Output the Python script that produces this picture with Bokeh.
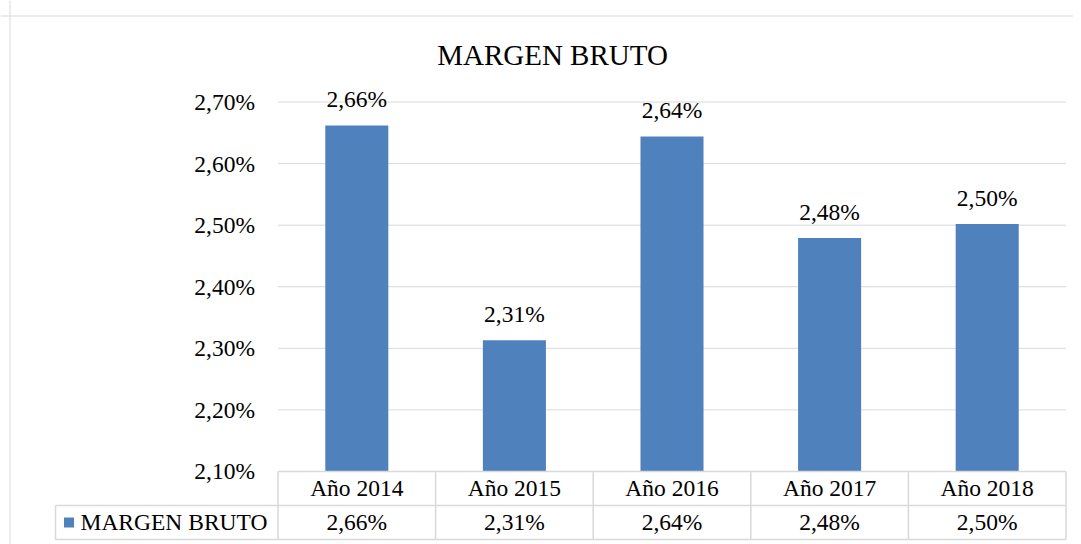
from bokeh.plotting import figure
from bokeh.models import Range1d, Span, Label, ColumnDataSource
from bokeh.core.properties import value
from bokeh.embed import file_html
from bokeh.resources import INLINE

# ---- data ----
CATEGORIES = ["Año 2014", "Año 2015", "Año 2016", "Año 2017", "Año 2018"]
MARGEN_BRUTO = [2.662, 2.313, 2.644, 2.479, 2.502]
SERIES_NAME = "MARGEN BRUTO"
TITLE = "MARGEN BRUTO"
Y_TICKS = [2.10, 2.20, 2.30, 2.40, 2.50, 2.60, 2.70]

def pct(v):
    return f"{v:.2f}".replace(".", ",") + "%"

# ---- layout constants ----
W, H = 1073, 544
PX_X = 157.6          # pixels per category
PX_Y = 615.8          # pixels per 1 percentage point
Y_MIN = Y_TICKS[0]
N = len(CATEGORIES)
X_START = (0 - 277.5) / PX_X
X_END = X_START + W / PX_X
Y_END = Y_TICKS[-1] + (101.5 - 0) / PX_Y
Y_START = Y_END - H / PX_Y
ROW_H = 34 / PX_Y
TABLE_LEFT = -222.5 / PX_X
ROW1_BOT = Y_MIN - ROW_H
ROW2_BOT = Y_MIN - 2 * ROW_H
FONT_NAME = "'Liberation Serif', 'Times New Roman', serif"
FONT = value(FONT_NAME)
FS = "23.5px"
LINE = "#d9d9d9"
BAR = "#4f81bd"

p = figure(width=W, height=H, output_backend="svg", toolbar_location=None,
           x_range=Range1d(X_START, X_END), y_range=Range1d(Y_START, Y_END),
           x_axis_location=None, y_axis_location=None,
           min_border_left=0, min_border_right=0, min_border_top=0, min_border_bottom=0)
p.outline_line_color = None
p.xgrid.visible = False
p.ygrid.visible = False
p.background_fill_color = "white"
p.border_fill_color = "white"

# outer chart border (left and top)
p.add_layout(Span(location=9.5, location_units="screen", dimension="height",
                  line_color=LINE, line_width=1))
p.add_layout(Span(location=H - 15.5, location_units="screen", dimension="width",
                  line_color=LINE, line_width=1))

# gridlines
p.segment(x0=[0] * len(Y_TICKS), x1=[N] * len(Y_TICKS), y0=Y_TICKS, y1=Y_TICKS,
          line_color=LINE, line_width=1)

# y tick labels
p.text(x=[0] * len(Y_TICKS), y=Y_TICKS, text=[pct(t) for t in Y_TICKS],
       x_offset=-23, text_align="right", text_baseline="middle",
       text_font=FONT, text_font_size=FS, text_color="#000000")

# bars
xs = [i + 0.5 for i in range(N)]
src = ColumnDataSource(dict(x=xs, top=MARGEN_BRUTO, cat=CATEGORIES,
                            lab=[pct(v) for v in MARGEN_BRUTO]))
p.vbar(x="x", top="top", bottom=Y_MIN, width=0.40, source=src,
       fill_color=BAR, line_color=None)

# bar labels
p.text(x="x", y="top", text="lab", source=src, y_offset=-26,
       text_align="center", text_baseline="alphabetic",
       text_font=FONT, text_font_size=FS, text_color="#000000")

# data table lines
h_y = [Y_MIN, ROW1_BOT, ROW2_BOT]
h_x0 = [0, TABLE_LEFT, TABLE_LEFT]
p.segment(x0=h_x0, x1=[N] * 3, y0=h_y, y1=h_y, line_color=LINE, line_width=1.5)
v_x = list(range(N + 1))
p.segment(x0=v_x, x1=v_x, y0=[ROW2_BOT] * len(v_x), y1=[Y_MIN] * len(v_x),
          line_color=LINE, line_width=1.5)
p.segment(x0=[TABLE_LEFT], x1=[TABLE_LEFT], y0=[ROW2_BOT], y1=[ROW1_BOT],
          line_color=LINE, line_width=1.5)

# table texts
p.text(x="x", y=Y_MIN - ROW_H / 2, text="cat", source=src,
       text_align="center", text_baseline="middle",
       text_font=FONT, text_font_size=FS, text_color="#000000")
p.text(x="x", y=Y_MIN - 1.5 * ROW_H, text="lab", source=src,
       text_align="center", text_baseline="middle",
       text_font=FONT, text_font_size=FS, text_color="#000000")

# legend key in table
p.scatter(x=[TABLE_LEFT + 13.5 / PX_X], y=[Y_MIN - 1.5 * ROW_H], marker="square",
          size=10, fill_color=BAR, line_color=None)
p.text(x=[TABLE_LEFT], y=[Y_MIN - 1.5 * ROW_H], text=[SERIES_NAME], x_offset=25,
       text_align="left", text_baseline="middle",
       text_font=FONT, text_font_size=FS, text_color="#000000")

# title
p.add_layout(Label(x=552, y=H - 54, x_units="screen", y_units="screen", text=TITLE,
                   text_align="center", text_baseline="middle",
                   text_font=FONT_NAME, text_font_size="29px",
                   text_color="#000000"))

open("out.html", "w").write(file_html(p, INLINE))
